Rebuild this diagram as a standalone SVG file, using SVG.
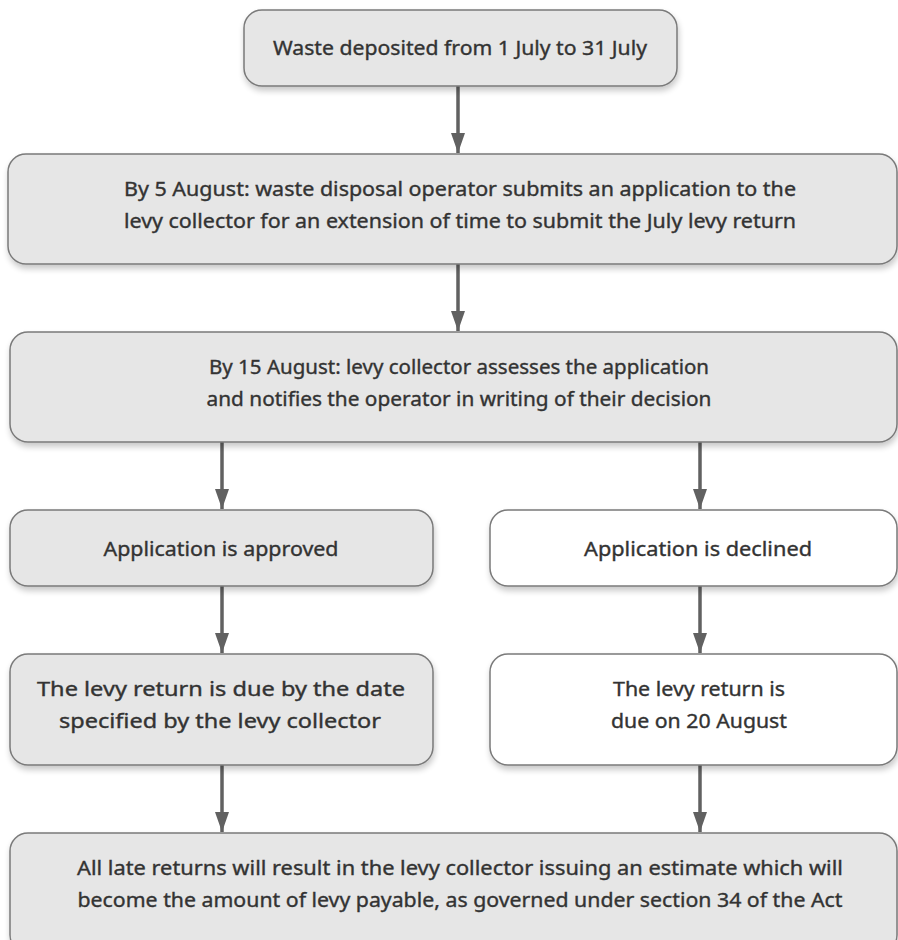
<svg xmlns="http://www.w3.org/2000/svg" width="898" height="940" viewBox="0 0 898 940">
<defs>
<filter id="sh" x="-5%" y="-10%" width="110%" height="130%">
<feGaussianBlur in="SourceAlpha" stdDeviation="3"/>
<feOffset dx="1" dy="4" result="b"/>
<feComponentTransfer><feFuncA type="linear" slope="0.22"/></feComponentTransfer>
<feMerge><feMergeNode/><feMergeNode in="SourceGraphic"/></feMerge>
</filter>
<marker id="ah" viewBox="0 0 20 14" refX="20" refY="7" markerWidth="20" markerHeight="14" markerUnits="userSpaceOnUse" orient="auto">
<path d="M0,0 L20,7 L0,14 Z" fill="#616161"/>
</marker>
</defs>
<style>
.box{fill:#e6e6e6;stroke:#7a7a7a;stroke-width:1.5;filter:url(#sh)}
.wbox{fill:#ffffff;stroke:#7a7a7a;stroke-width:1.5;filter:url(#sh)}
.t{font-family:"Noto Sans","Open Sans","Liberation Sans",sans-serif;font-size:19px;fill:#333333;stroke:#333333;stroke-width:0.35;text-anchor:middle}
.c{stroke:#616161;stroke-width:3.5;fill:none}
</style>
<rect width="898" height="940" fill="#ffffff"/>
<g id="connectors">
<line class="c" x1="458" y1="86" x2="458" y2="153" marker-end="url(#ah)"/>
<line class="c" x1="458" y1="264" x2="458" y2="331" marker-end="url(#ah)"/>
<line class="c" x1="222" y1="442" x2="222" y2="509" marker-end="url(#ah)"/>
<line class="c" x1="700" y1="442" x2="700" y2="509" marker-end="url(#ah)"/>
<line class="c" x1="222" y1="586" x2="222" y2="653" marker-end="url(#ah)"/>
<line class="c" x1="700" y1="586" x2="700" y2="653" marker-end="url(#ah)"/>
<line class="c" x1="222" y1="765" x2="222" y2="832" marker-end="url(#ah)"/>
<line class="c" x1="700" y1="765" x2="700" y2="832" marker-end="url(#ah)"/>
</g>
<g id="n1">
<rect class="box" x="244" y="10" width="433" height="76" rx="18"/>
<text class="t" x="460" y="55" textLength="374" lengthAdjust="spacingAndGlyphs">Waste deposited from 1 July to 31 July</text>
</g>
<g id="n2">
<rect class="box" x="8" y="154" width="889" height="110" rx="18"/>
<text class="t" x="460" y="196" textLength="672" lengthAdjust="spacingAndGlyphs">By 5 August: waste disposal operator submits an application to the</text>
<text class="t" x="460" y="228" textLength="672" lengthAdjust="spacingAndGlyphs">levy collector for an extension of time to submit the July levy return</text>
</g>
<g id="n3">
<rect class="box" x="10" y="332" width="887" height="110" rx="18"/>
<text class="t" x="459" y="374" textLength="500" lengthAdjust="spacingAndGlyphs">By 15 August: levy collector assesses the application</text>
<text class="t" x="459" y="406" textLength="505" lengthAdjust="spacingAndGlyphs">and notifies the operator in writing of their decision</text>
</g>
<g id="n4">
<rect class="box" x="10" y="510" width="423" height="76" rx="18"/>
<text class="t" x="221" y="556" textLength="235" lengthAdjust="spacingAndGlyphs">Application is approved</text>
</g>
<g id="n5">
<rect class="wbox" x="490" y="510" width="407" height="76" rx="18"/>
<text class="t" x="698" y="556" textLength="228" lengthAdjust="spacingAndGlyphs">Application is declined</text>
</g>
<g id="n6">
<rect class="box" x="10" y="654" width="423" height="111" rx="18"/>
<text class="t" x="221" y="696" textLength="368" lengthAdjust="spacingAndGlyphs">The levy return is due by the date</text>
<text class="t" x="220" y="728" textLength="322" lengthAdjust="spacingAndGlyphs">specified by the levy collector</text>
</g>
<g id="n7">
<rect class="wbox" x="490" y="654" width="407" height="111" rx="18"/>
<text class="t" x="699" y="696" textLength="172" lengthAdjust="spacingAndGlyphs">The levy return is</text>
<text class="t" x="699" y="728" textLength="176" lengthAdjust="spacingAndGlyphs">due on 20 August</text>
</g>
<g id="n8">
<rect class="box" x="10" y="833" width="887" height="120" rx="18"/>
<text class="t" x="460" y="875" textLength="766" lengthAdjust="spacingAndGlyphs">All late returns will result in the levy collector issuing an estimate which will</text>
<text class="t" x="460" y="907" textLength="765" lengthAdjust="spacingAndGlyphs">become the amount of levy payable, as governed under section 34 of the Act</text>
</g>
</svg>
